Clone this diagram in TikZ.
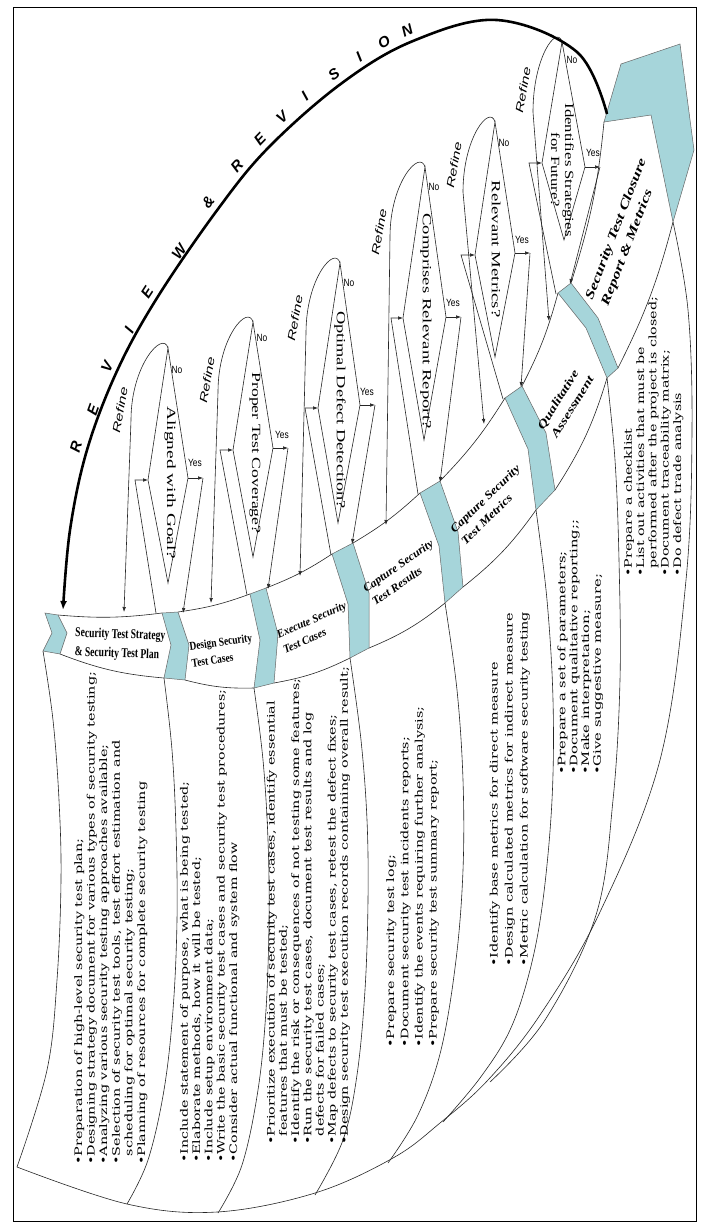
\documentclass[tikz,border=0pt]{standalone}
\usepackage{fontspec}
\usepackage{graphicx}
\setmainfont{Liberation Serif}
\newfontfamily\bulfont{DejaVu Serif}
\newfontfamily\sansfont{Liberation Sans}
\usetikzlibrary{arrows.meta}
\definecolor{chevfill}{RGB}{166,213,218}
\newcommand{\bcol}[3]{{\bulfont\fontsize{10.3}{#2}\selectfont\resizebox*{#1}{\totalheight}{\begin{tabular}{@{}l@{}}#3\end{tabular}}}}
\newcommand{\stg}[2]{\resizebox*{#1}{\totalheight}{\begin{tabular}{@{}l@{}}#2\end{tabular}}}
\newcommand{\yn}[1]{{\sansfont\fontsize{10.5}{10.5}\selectfont\scalebox{0.8}[1]{#1}}}
\begin{document}
\begin{tikzpicture}[x=1pt,y=-1pt,
  ln/.style={line width=0.6pt, draw=black!85},
  arr/.style={line width=0.6pt, draw=black!85, -{Latex[length=5pt,width=3.6pt]}},
  chev/.style={fill=chevfill, draw=black!60, line width=0.5pt},
  dia/.style={line width=0.6pt, draw=black!85},
  stlab/.style={inner sep=0pt, font=\bfseries\itshape\fontsize{11.5}{16}\selectfont},
  diatext/.style={rotate=-90, inner sep=0pt, font=\fontsize{12.5}{14}\selectfont},
  refl/.style={inner sep=0pt, font=\sansfont\itshape\fontsize{11}{11}\selectfont},
  rv/.style={inner sep=0pt, font=\sansfont\bfseries\itshape\fontsize{15}{15}\selectfont},
  bul/.style={rotate=90, anchor=north west, inner sep=0pt}
]
\useasboundingbox (0,0) rectangle (703,1224);
\fill[white] (0,0) rectangle (703,1224);
\draw[line width=0.8pt] (13,7) rectangle (696,1221);

% chevron corner coordinates
\coordinate (c0tl) at (45,613); \coordinate (c0tr) at (58,615); \coordinate (c0tip) at (67,633);
\coordinate (c0br) at (60,654); \coordinate (c0bl) at (43,651); \coordinate (c0n) at (52,633);
\coordinate (c1tl) at (162,613); \coordinate (c1tr) at (178,612); \coordinate (c1tip) at (189,645);
\coordinate (c1br) at (185,680); \coordinate (c1bl) at (164,678); \coordinate (c1n) at (171,645);
\coordinate (c2tl) at (250,594); \coordinate (c2tr) at (266,588); \coordinate (c2tip) at (278,634);
\coordinate (c2br) at (274,683); \coordinate (c2bl) at (254,688); \coordinate (c2n) at (260,640);
\coordinate (c3tl) at (332,554); \coordinate (c3tr) at (353,543); \coordinate (c3tip) at (369,593);
\coordinate (c3br) at (369,648); \coordinate (c3bl) at (350,658); \coordinate (c3n) at (348,604);
\coordinate (c4tl) at (420,493); \coordinate (c4tr) at (440,481); \coordinate (c4tip) at (458,532);
\coordinate (c4br) at (463,587); \coordinate (c4bl) at (445,603); \coordinate (c4n) at (439,546);
\coordinate (c5tl) at (505,398); \coordinate (c5tr) at (522,386); \coordinate (c5tip) at (546,433);
\coordinate (c5br) at (555,490); \coordinate (c5bl) at (536,510); \coordinate (c5n) at (528,449);
\coordinate (c6tl) at (558,293); \coordinate (c6tr) at (571,283); \coordinate (c6tip) at (598,318);
\coordinate (c6br) at (618,368); \coordinate (c6bl) at (607,378); \coordinate (c6n) at (586,328);
\coordinate (eF) at (604,122); \coordinate (eA) at (621,64); \coordinate (eB) at (680,44);
\coordinate (eC) at (694,150); \coordinate (eD) at (673,222); \coordinate (eE) at (651,115);

% fan lines
\draw[ln] plot[smooth, tension=0.6] coordinates {(43,651) (53,720) (59,800) (61,880) (57,980) (47,1070) (17,1167)};
\draw[ln] plot[smooth, tension=0.6] coordinates {(164,678) (172,750) (176,830) (177,920) (173,1010) (164,1090) (148,1160) (127,1204)};
\draw[ln] plot[smooth, tension=0.6] coordinates {(254,688) (263,760) (268,840) (269,920) (266,1010) (258,1090) (242,1165) (218,1213)};
\draw[ln] plot[smooth, tension=0.6] coordinates {(350,658) (361,740) (367,820) (368,900) (365,990) (357,1075) (343,1140) (315,1195)};
\draw[ln] plot[smooth, tension=0.6] coordinates {(445,603) (457,690) (463,780) (463,870) (456,960) (441,1050) (418,1115) (388,1163)};
\draw[ln] plot[smooth, tension=0.6] coordinates {(536,510) (547,600) (553,700) (552,800) (543,900) (530,970) (510,1030) (480,1078) (443,1122)};
\draw[ln] plot[smooth, tension=0.6] coordinates {(607,378) (615,460) (619,560) (620,680) (613,800) (596,915) (545,1020) (490,1082)};
\draw[ln] plot[smooth, tension=0.6] coordinates {(673,222) (688,310) (692,430) (686,580) (660,760) (600,912) (540,1015) (488,1080) (440,1123) (393,1158) (315,1193) (217,1212) (127,1204) (17,1167)};

% band boundaries
\draw[ln] (c0tr) to[bend right=6] (c1tl);
\draw[ln] (c1tr) to[bend right=6] (c2tl);
\draw[ln] (c2tr) to[bend right=6] (c3tl);
\draw[ln] (c3tr) to[bend right=6] (c4tl);
\draw[ln] (c4tr) to[bend right=6] (c5tl);
\draw[ln] (c5tr) to[bend right=6] (c6tl);
\draw[ln] (c6tr) to[bend right=6] (eF);
\draw[ln] (c0br) to[bend right=8] (c1bl);
\draw[ln] (c1br) to[bend right=8] (c2bl);
\draw[ln] (c2br) to[bend right=8] (c3bl);
\draw[ln] (c3br) to[bend right=8] (c4bl);
\draw[ln] (c4br) to[bend right=8] (c5bl);
\draw[ln] (c5br) to[bend right=8] (c6bl);
\draw[ln] (c6br) to[bend right=6] (eD);

% chevrons
\filldraw[chev] (c0tl) -- (c0tr) -- (c0tip) -- (c0br) -- (c0bl) -- (c0n) -- cycle;
\filldraw[chev] (c1tl) -- (c1tr) -- (c1tip) -- (c1br) -- (c1bl) -- (c1n) -- cycle;
\filldraw[chev] (c2tl) -- (c2tr) -- (c2tip) -- (c2br) -- (c2bl) -- (c2n) -- cycle;
\filldraw[chev] (c3tl) -- (c3tr) -- (c3tip) -- (c3br) -- (c3bl) -- (c3n) -- cycle;
\filldraw[chev] (c4tl) -- (c4tr) -- (c4tip) -- (c4br) -- (c4bl) -- (c4n) -- cycle;
\filldraw[chev] (c5tl) -- (c5tr) -- (c5tip) -- (c5br) -- (c5bl) -- (c5n) -- cycle;
\filldraw[chev] (c6tl) -- (c6tr) -- (c6tip) -- (c6br) -- (c6bl) -- (c6n) -- cycle;
\filldraw[chev] (eF) -- (eA) -- (eB) -- (eC) -- (eD) -- (eE) -- cycle;

% stage labels
\node[stlab, font=\bfseries\fontsize{13.5}{19}\selectfont, rotate=-2] (lab1) at (120,644) {\stg{90pt}{Security Test Strategy\\\& Security Test Plan}};
\node[stlab, font=\bfseries\fontsize{12}{17}\selectfont, rotate=8] (lab2) at (222,651) {\stg{63pt}{Design Security\\Test Cases}};
\node[stlab, rotate=24] (lab3) at (315,628) {\stg{75pt}{Execute Security\\Test Cases}};
\node[stlab, rotate=35] (lab4) at (403,573) {\stg{83pt}{Capture Security\\Test Results}};
\node[stlab, rotate=44] (lab5) at (491,505) {\stg{92pt}{Capture Security\\Test Metrics}};
\node[stlab, rotate=58] (lab6) at (566,403) {\stg{70pt}{Qualitative\\Assessment}};
\node[stlab, font=\bfseries\itshape\fontsize{12.5}{17}\selectfont, rotate=69] (lab7) at (624,232) {\stg{150pt}{Security Test Closure\\Report \& Metrics}};

% bullet columns
\node[bul] (col1) at (73,1165) {\bcol{493pt}{12.6pt}{•Preparation of high-level security test plan;\\
•Designing strategy document for various types of security testing;\\
•Analyzing various security testing approaches available;\\
•Selection of security test tools, test effort estimation and\\
\hspace{0.6em}scheduling for optimal security testing;\\
•Planning of resources for complete security testing}};
\node[bul] (col2) at (179,1163) {\bcol{473pt}{12.3pt}{•Include statement of purpose, what is being tested;\\
•Elaborate methods, how it will be tested;\\
•Include setup environment data;\\
•Write the basic security test cases and security test procedures;\\
•Consider actual functional and system flow}};
\node[bul] (col3) at (266,1145) {\bcol{478pt}{12.2pt}{•Prioritize execution of security test cases, identify essential\\
\hspace{0.6em}features that must be tested;\\
•Identify the risk or consequences of not testing some features;\\
•Run the security test cases, document test results and log\\
\hspace{0.6em}defects for failed cases;\\
•Map defects to security test cases, retest the defect fixes;\\
•Design security test execution records containing overall result;}};
\node[bul] (col4) at (384,1048) {\bcol{341pt}{14.2pt}{•Prepare security test log;\\
•Document security test incidents reports;\\
•Identify the events requiring further analysis;\\
•Prepare security test summary report;}};
\node[bul] (col5) at (487,967) {\bcol{355pt}{15pt}{•Identify base metrics for direct measure\\
•Design calculated metrics for indirect measure\\
•Metric calculation for software security testing}};
\node[bul] (col6) at (557,775) {\bcol{255pt}{11.8pt}{•Prepare a set of parameters;\\
•Document qualitative reporting;;\\
•Make interpretation;\\
•Give suggestive measure;}};
\node[bul] (col7) at (623,577) {\bcol{280pt}{12.3pt}{•Prepare a checklist\\
•List out activities that must be\\
\hspace{0.6em}performed after the project is closed;\\
•Document traceability matrix;\\
•Do defect trade analysis}};

% diamonds
\coordinate (d1t) at (168,348); \coordinate (d1r) at (188,478); \coordinate (d1b) at (168,583); \coordinate (d1l) at (148,480);
\coordinate (d2t) at (253,322); \coordinate (d2r) at (273,448); \coordinate (d2b) at (253,557); \coordinate (d2l) at (233,450);
\coordinate (d3t) at (340,263); \coordinate (d3r) at (360,405); \coordinate (d3b) at (338,523); \coordinate (d3l) at (318,408);
\coordinate (d4t) at (425,167); \coordinate (d4r) at (446,317); \coordinate (d4b) at (424,440); \coordinate (d4l) at (403,318);
\coordinate (d5t) at (495,122); \coordinate (d5r) at (515,253); \coordinate (d5b) at (495,357); \coordinate (d5l) at (475,255);
\coordinate (d6t) at (562,42);  \coordinate (d6r) at (585,167); \coordinate (d6b) at (564,240); \coordinate (d6l) at (542,163);
\foreach \i in {1,...,6} { \draw[dia] (d\i t) -- (d\i r) -- (d\i b) -- (d\i l) -- cycle; }

\node[diatext] (q1) at (170,483) {\resizebox{153pt}{\height}{Aligned with Goal?}};
\node[diatext] (q2) at (255,453) {\resizebox{161pt}{\height}{Proper Test Coverage?}};
\node[diatext] (q3) at (340,410) {\resizebox{198pt}{\height}{Optimal Defect Detection?}};
\node[diatext] (q4) at (426,321) {\resizebox{215pt}{\height}{Comprises Relevant Report?}};
\node[diatext] (q5) at (496,249) {\resizebox{137pt}{\height}{Relevant Metrics?}};
\node[diatext] (q6) at (561,170) {\resizebox*{133pt}{\totalheight}{\begin{tabular}{@{}c@{}}Identifies Strategies\\for Future?\end{tabular}}};

% connector anchor points
\coordinate (b1) at (156,613); \coordinate (i1) at (135,480); \coordinate (y1) at (203,478); \coordinate (yl1) at (183,613);
\coordinate (b2) at (247,595); \coordinate (i2) at (220,450); \coordinate (y2) at (288,448); \coordinate (yl2) at (268,589);
\coordinate (b3) at (331,555); \coordinate (i3) at (305,408); \coordinate (y3) at (375,405); \coordinate (yl3) at (352,544);
\coordinate (b4) at (418,494); \coordinate (i4) at (391,318); \coordinate (y4) at (461,317); \coordinate (yl4) at (440,482);
\coordinate (b5) at (503,399); \coordinate (i5) at (461,255); \coordinate (y5) at (530,253); \coordinate (yl5) at (521,387);
\coordinate (b6) at (556,294); \coordinate (i6) at (529,163); \coordinate (y6) at (600,167); \coordinate (yl6) at (570,284);
\coordinate (s1) at (131,420); \coordinate (r1) at (124,612);
\coordinate (s2) at (218,392); \coordinate (r2) at (211,603);
\coordinate (s3) at (306,333); \coordinate (r3) at (300,576);
\coordinate (s4) at (390,237); \coordinate (r4) at (386,525);
\coordinate (s5) at (463,192); \coordinate (r5) at (484,424);
\coordinate (s6) at (533,112); \coordinate (r6) at (549,321);

\foreach \i in {1,...,6} {
  \draw[arr] (b\i) -- (i\i) -- (d\i l);
  \draw[arr] (d\i r) -- (y\i);
  \draw[arr] (y\i) -- (yl\i);
  \draw[arr] (d\i t) .. controls +(-5,-18) and +(0,-55) .. (s\i) -- (r\i);
}

% yes / no labels
\node[inner sep=0] (no1) at (177,370) {\yn{No}};  \node[inner sep=0] (ye1) at (195,463) {\yn{Yes}};
\node[inner sep=0] (no2) at (262,338) {\yn{No}};  \node[inner sep=0] (ye2) at (282,435) {\yn{Yes}};
\node[inner sep=0] (no3) at (349,283) {\yn{No}};  \node[inner sep=0] (ye3) at (367,392) {\yn{Yes}};
\node[inner sep=0] (no4) at (434,187) {\yn{No}};  \node[inner sep=0] (ye4) at (453,303) {\yn{Yes}};
\node[inner sep=0] (no5) at (504,143) {\yn{No}};  \node[inner sep=0] (ye5) at (522,240) {\yn{Yes}};
\node[inner sep=0] (no6) at (572,60)  {\yn{No}};  \node[inner sep=0] (ye6) at (593,153) {\yn{Yes}};

% refine labels
\node[refl, rotate=80] (rf1) at (120,410) {\resizebox{46pt}{\height}{Refine}};
\node[refl, rotate=80] (rf2) at (207,380) {\resizebox{46pt}{\height}{Refine}};
\node[refl, rotate=80] (rf3) at (295,318) {\resizebox{46pt}{\height}{Refine}};
\node[refl, rotate=80] (rf4) at (379,232) {\resizebox{46pt}{\height}{Refine}};
\node[refl, rotate=80] (rf5) at (454,165) {\resizebox{46pt}{\height}{Refine}};
\node[refl, rotate=80] (rf6) at (523,90)  {\resizebox{46pt}{\height}{Refine}};

% review & revision arc
\draw[line width=2.6pt, -{Latex[length=9pt,width=7pt]}] plot[smooth, tension=0.6] coordinates {(607,114) (577,52) (497,20) (413,41) (342,83) (269,147) (218,209) (157,298) (117,371) (87,450) (70,530) (63,610)};
\node[rv, rotate=74] (rvR1) at (76,447) {R};
\node[rv, rotate=70] (rvE1) at (93,410) {E};
\node[rv, rotate=65] (rvV1) at (107,367) {V};
\node[rv, rotate=61] (rvI1) at (129,330) {I};
\node[rv, rotate=57] (rvE2) at (147,292) {E};
\node[rv, rotate=54] (rvW) at (179,252) {W};
\node[rv, rotate=51] (rvAmp) at (208,202) {\&};
\node[rv, rotate=48] (rvR2) at (237,166) {R};
\node[rv, rotate=46] (rvE3) at (260,139) {E};
\node[rv, rotate=43] (rvV2) at (282,117) {V};
\node[rv, rotate=40] (rvI2) at (305,96) {I};
\node[rv, rotate=36] (rvS) at (334,74) {S};
\node[rv, rotate=33] (rvI3) at (359,57) {I};
\node[rv, rotate=29] (rvO) at (384,42) {O};
\node[rv, rotate=25] (rvN) at (407,31) {N};
\end{tikzpicture}
\end{document}
